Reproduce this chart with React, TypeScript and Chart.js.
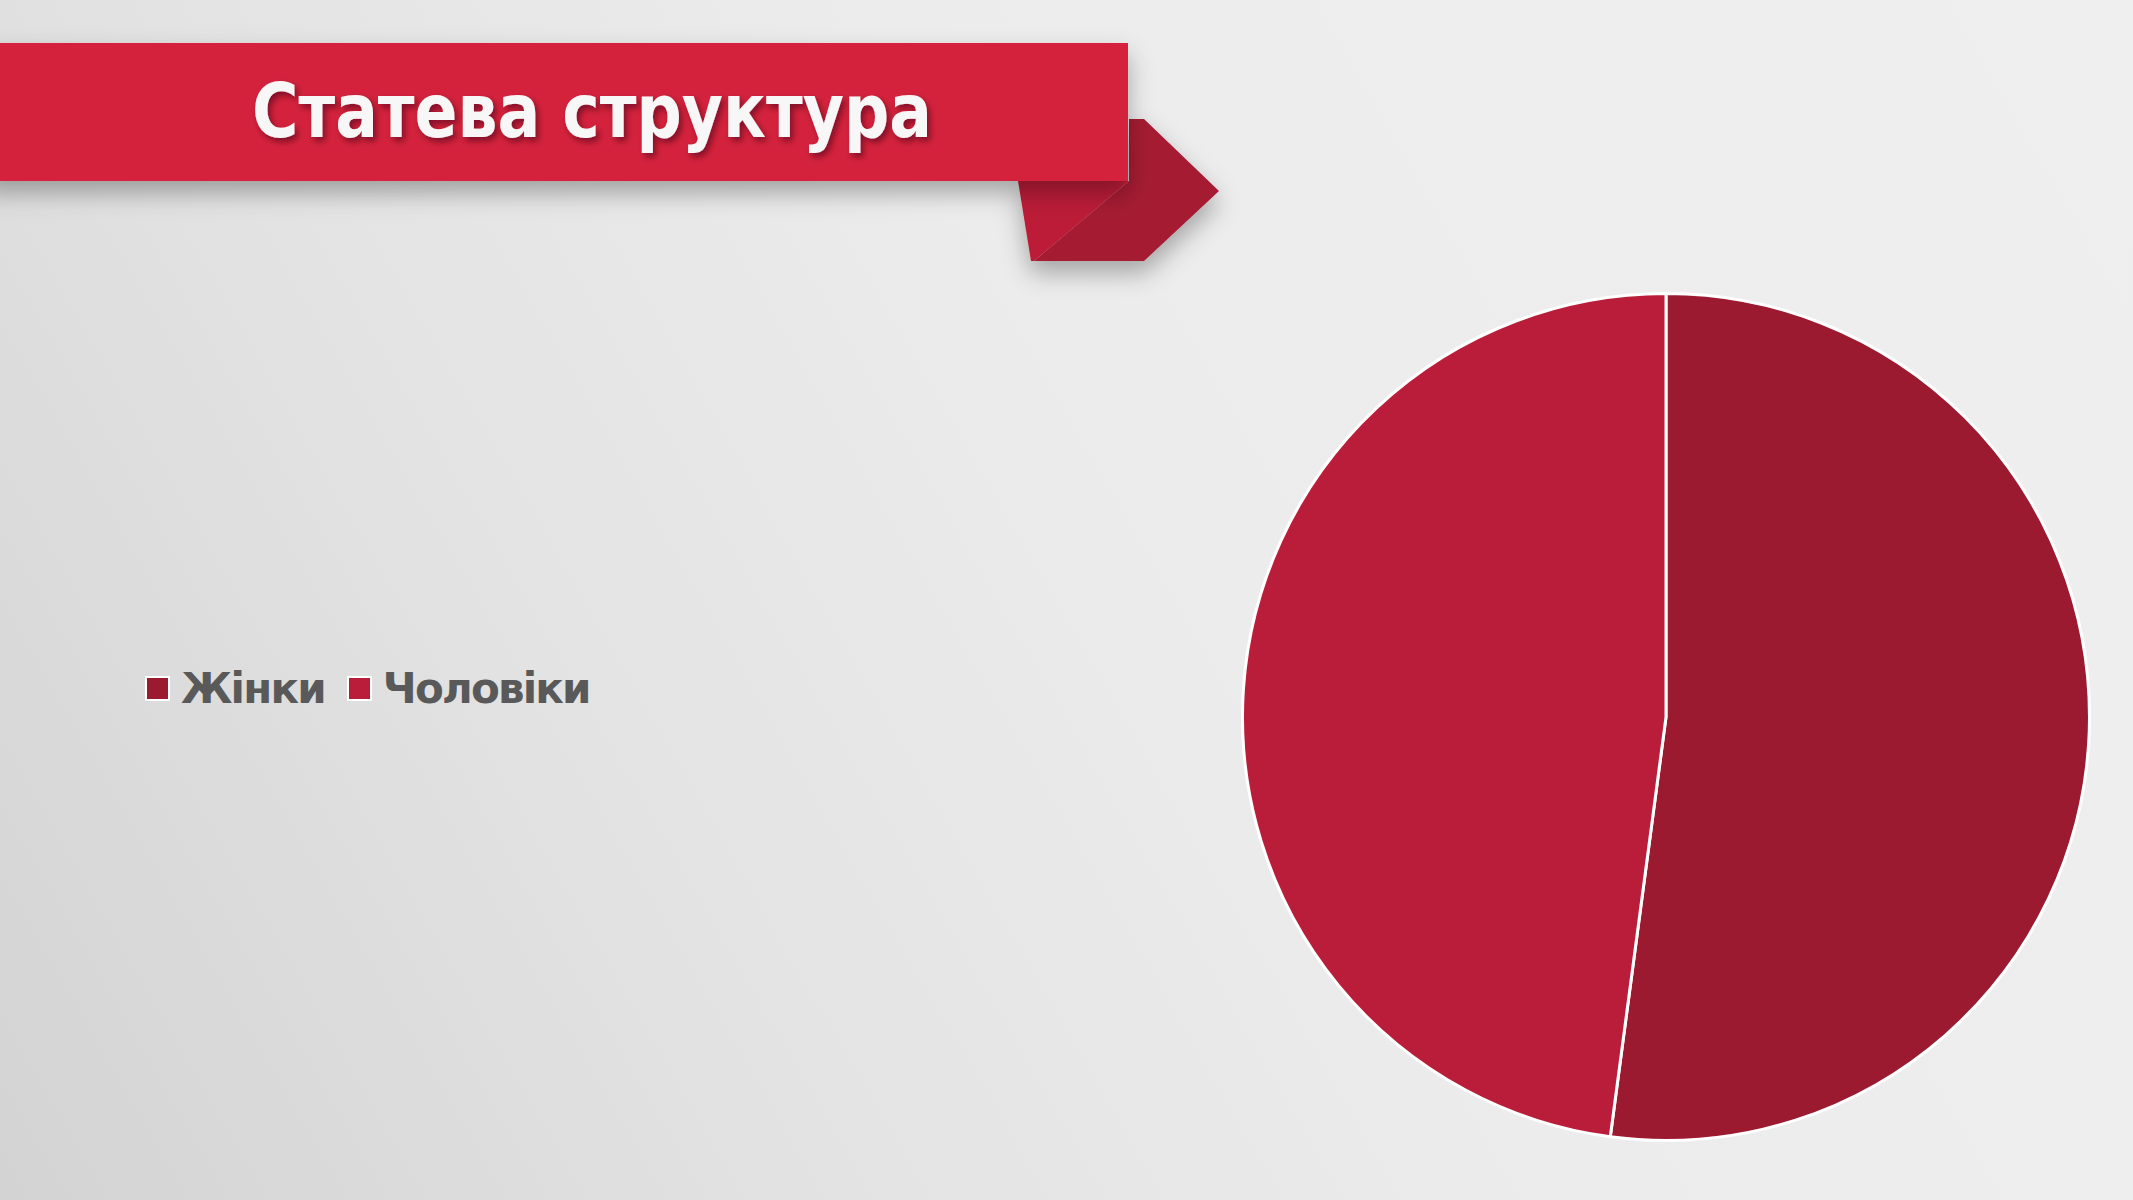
import { useEffect, useRef } from "react";
import Chart from "chart.js/auto";

const title = "Статева структура";
const labels = ["Жінки", "Чоловіки"];
const values = [52.1, 47.9];
const colors = ["#9C1A30", "#BA1D3A"];

const GenderPie = () => {
  const chartRef: any = useRef(null);
  useEffect(() => {
    const ctx = chartRef.current.getContext("2d");
    const theChart = new Chart(ctx, {
      type: "pie",
      data: {
        labels: labels,
        datasets: [
          {
            data: values,
            backgroundColor: colors,
            borderColor: "#ffffff",
            borderWidth: 3,
          },
        ],
      },
      options: {
        animation: false,
        responsive: true,
        maintainAspectRatio: false,
        layout: { padding: 0 },
        plugins: {
          legend: { display: false },
          tooltip: { enabled: false },
        },
      },
    });
    return () => { theChart.destroy() }
  }, []);

  return <canvas ref={chartRef} />;
};

const App = () => {
  return (
    <div
      style={{
        position: "absolute",
        left: 0,
        top: 0,
        width: 2133,
        height: 1200,
        overflow: "hidden",
        background:
          "linear-gradient(60deg, #d3d3d3 0%, #e3e3e3 30%, #ececec 55%, #efefef 100%)",
      }}
    >
      <svg width={2133} height={1200} style={{ position: "absolute", left: 0, top: 0 }}>
        <defs>
          <filter id="sh" x="-20%" y="-30%" width="140%" height="180%">
            <feDropShadow dx="0" dy="12" stdDeviation="12" floodColor="#000" floodOpacity="0.3" />
          </filter>
          <filter id="tsh" x="-10%" y="-30%" width="120%" height="160%">
            <feDropShadow dx="3" dy="4" stdDeviation="3" floodColor="#3a0010" floodOpacity="0.55" />
          </filter>
        </defs>
        <g filter="url(#sh)">
          <polygon points="1129,119 1144,119 1219,191 1144,261 1034,261 1129,181" fill="#A51B32" />
          <polygon points="1018,181 1129,181 1034,261 1031,261" fill="#BC1E38" />
        </g>
        <rect x={-20} y={43} width={1148} height={138} fill="#D4203E" filter="url(#sh)" />
        <text
          x={592}
          y={137}
          textAnchor="middle"
          textLength={680}
          lengthAdjust="spacingAndGlyphs"
          fill="#f7f7f7"
          filter="url(#tsh)"
          style={{ font: "bold 74px 'DejaVu Sans'" }}
        >
          {title}
        </text>
      </svg>

      <div
        style={{
          position: "absolute",
          left: 145,
          top: 664,
          height: 48,
          display: "flex",
          alignItems: "center",
          fontFamily: "'DejaVu Sans'",
          fontWeight: "bold",
          fontSize: 42,
          letterSpacing: "-1.8px",
          color: "#595959",
        }}
      >
        {labels.map((l, i) => (
          <div key={l} style={{ display: "flex", alignItems: "center", marginRight: 22 }}>
            <span
              style={{
                display: "inline-block",
                width: 21,
                height: 21,
                background: colors[i],
                border: "2px solid #ffffff",
                marginRight: 11,
              }}
            />
            <span>{l}</span>
          </div>
        ))}
      </div>

      <div style={{ position: "absolute", left: 1241, top: 292, width: 850, height: 850 }}>
        <GenderPie />
      </div>
    </div>
  );
};

export default App;
